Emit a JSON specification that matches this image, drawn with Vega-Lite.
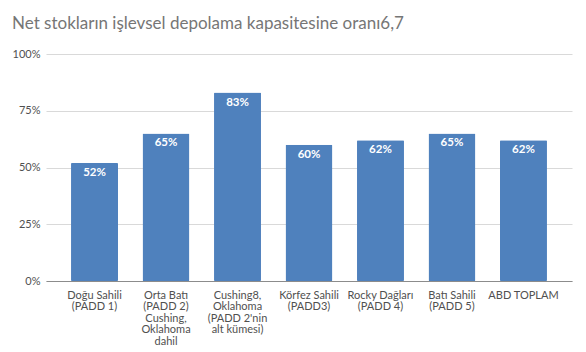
{
  "$schema": "https://vega.github.io/schema/vega-lite/v6.json",
  "autosize": "none",
  "width": 526,
  "height": 227,
  "padding": {"left": 46, "top": 54, "right": 14, "bottom": 71},
  "background": "white",
  "title": {
    "text": "Net stokların işlevsel depolama kapasitesine oranı6,7",
    "anchor": "start",
    "frame": "group",
    "font": "Lato",
    "fontSize": 17,
    "fontWeight": "normal",
    "color": "#767676",
    "dx": -34,
    "offset": 15
  },
  "config": {
    "view": {"stroke": null},
    "font": "Lato"
  },
  "data": {
    "values": [
      {"bolge": "Doğu Sahili\n(PADD 1)", "oran": 0.52},
      {"bolge": "Orta Batı\n(PADD 2)\nCushing,\nOklahoma\ndahil", "oran": 0.65},
      {"bolge": "Cushing8,\nOklahoma\n(PADD 2'nin\nalt kümesi)", "oran": 0.83},
      {"bolge": "Körfez Sahili\n(PADD3)", "oran": 0.60},
      {"bolge": "Rocky Dağları\n(PADD 4)", "oran": 0.62},
      {"bolge": "Batı Sahili\n(PADD 5)", "oran": 0.65},
      {"bolge": "ABD TOPLAM", "oran": 0.62}
    ]
  },
  "encoding": {
    "x": {
      "field": "bolge",
      "type": "nominal",
      "sort": null,
      "scale": {"paddingInner": 0.343, "paddingOuter": 0.35},
      "axis": {
        "title": null,
        "labelAngle": 0,
        "labelExpr": "split(datum.label, '\\n')",
        "labelFont": "Lato",
        "labelFontSize": 11,
        "labelColor": "#505050",
        "labelLineHeight": 11.5,
        "labelPadding": 8,
        "labelBaseline": "top",
        "ticks": false,
        "domainColor": "#8c8c8c",
        "domainWidth": 1,
        "labelLimit": 200
      }
    },
    "y": {
      "field": "oran",
      "type": "quantitative",
      "scale": {"domain": [0, 1], "nice": false},
      "axis": {
        "title": null,
        "values": [0, 0.25, 0.5, 0.75, 1],
        "format": ".0%",
        "labelFont": "Lato",
        "labelFontSize": 11,
        "labelColor": "#505050",
        "labelPadding": 6,
        "ticks": false,
        "domain": false,
        "gridColor": "#d9d9d9",
        "gridWidth": 1
      }
    }
  },
  "layer": [
    {
      "mark": {"type": "bar", "color": "#4f81bd", "cornerRadius": 1}
    },
    {
      "mark": {
        "type": "text",
        "color": "white",
        "font": "Lato",
        "fontWeight": "bold",
        "fontSize": 11.5,
        "baseline": "top",
        "dy": 4
      },
      "encoding": {
        "text": {"field": "oran", "type": "quantitative", "format": ".0%"}
      }
    }
  ]
}
